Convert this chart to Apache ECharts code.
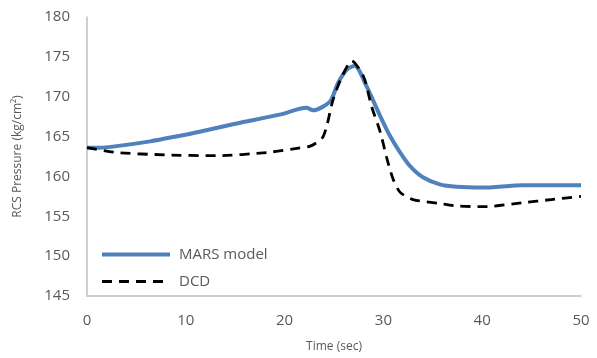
<!DOCTYPE html>
<html>
<head>
<meta charset="utf-8">
<script src="https://cdn.jsdelivr.net/npm/echarts@6/dist/echarts.min.js"></script>
<style>
  html, body { margin: 0; padding: 0; background: #fff; }
  #main { width: 597px; height: 358px; }
</style>
</head>
<body>
<div id="main"></div>
<script>
// 数据：时间 (sec) 与压力 (kg/cm2)
var marsTime = [0, 1.3, 3, 6.4, 9, 11.4, 15, 19.5, 22.2, 22.9, 24.6, 25.4, 26.3, 27.1, 28.3, 29.7, 30.7, 31.7, 32.7, 34, 35.7, 37.4, 40, 44.1, 50];
var marsValue = [163.6, 163.6, 163.8, 164.4, 165.0, 165.6, 166.6, 167.75, 168.6, 168.3, 169.4, 171.7, 173.4, 173.9, 171.3, 167.5, 165.0, 163.0, 161.3, 159.9, 159.0, 158.7, 158.6, 158.9, 158.9];
var dcdTime = [0, 3, 8, 13.1, 18.2, 21.6, 22.6, 23.8, 24.3, 24.9, 25.8, 26.8, 28, 28.8, 29.7, 30.3, 31, 31.7, 33, 35.7, 37.4, 40.1, 44.1, 47, 50];
var dcdValue = [163.6, 163.0, 162.7, 162.6, 163.0, 163.6, 163.8, 164.8, 166.5, 169.6, 172.5, 174.5, 172.5, 168.8, 165.5, 162.5, 159.6, 158.0, 157.1, 156.6, 156.3, 156.2, 156.7, 157.1, 157.5];
var seriesNames = ['MARS model', 'DCD'];

function pairs(xs, ys) {
    var arr = [];
    for (var i = 0; i < xs.length; i++) {
        arr.push([xs[i], ys[i]]);
    }
    return arr;
}

var myChart = echarts.init(document.getElementById('main'));

var option = {
    animation: false,
    textStyle: { fontFamily: 'Open Sans' },
    grid: { left: 87, right: 16, top: 17, bottom: 61 },
    legend: {
        orient: 'vertical',
        left: 95,
        top: 242,
        itemWidth: 68,
        itemHeight: 12,
        itemGap: 12,
        data: seriesNames,
        itemStyle: { opacity: 0 },
        lineStyle: { width: 'inherit' },
        textStyle: { color: '#595959', fontSize: 15, padding: [0, 0, 0, 4] }
    },
    xAxis: {
        type: 'value',
        min: 0,
        max: 50,
        interval: 10,
        name: 'Time (sec)',
        nameLocation: 'middle',
        nameGap: 45,
        nameTextStyle: { color: '#595959', fontSize: 12 },
        axisLine: { lineStyle: { color: '#bfbfbf', width: 1.5 } },
        axisTick: { show: false },
        splitLine: { show: false },
        axisLabel: { color: '#595959', fontSize: 15, margin: 17 }
    },
    yAxis: {
        type: 'value',
        min: 145,
        max: 180,
        interval: 5,
        name: 'RCS Pressure (kg/cm²)',
        nameLocation: 'middle',
        nameGap: 63,
        nameTextStyle: { color: '#595959', fontSize: 12 },
        axisLine: { show: true, lineStyle: { color: '#bfbfbf', width: 1.5 } },
        axisTick: { show: false },
        splitLine: { show: false },
        axisLabel: { color: '#595959', fontSize: 15, margin: 17 }
    },
    series: [{
        name: seriesNames[0],
        type: 'line',
        smooth: 0.25,
        showSymbol: false,
        symbol: 'none',
        lineStyle: { color: '#4f81bd', width: 4 },
        itemStyle: { color: '#4f81bd' },
        data: pairs(marsTime, marsValue)
    }, {
        name: seriesNames[1],
        type: 'line',
        smooth: 0.25,
        showSymbol: false,
        symbol: 'none',
        lineStyle: { color: '#000', width: 2.8, type: [10, 7] },
        itemStyle: { color: '#000' },
        data: pairs(dcdTime, dcdValue)
    }]
};

myChart.setOption(option);
</script>
</body>
</html>
